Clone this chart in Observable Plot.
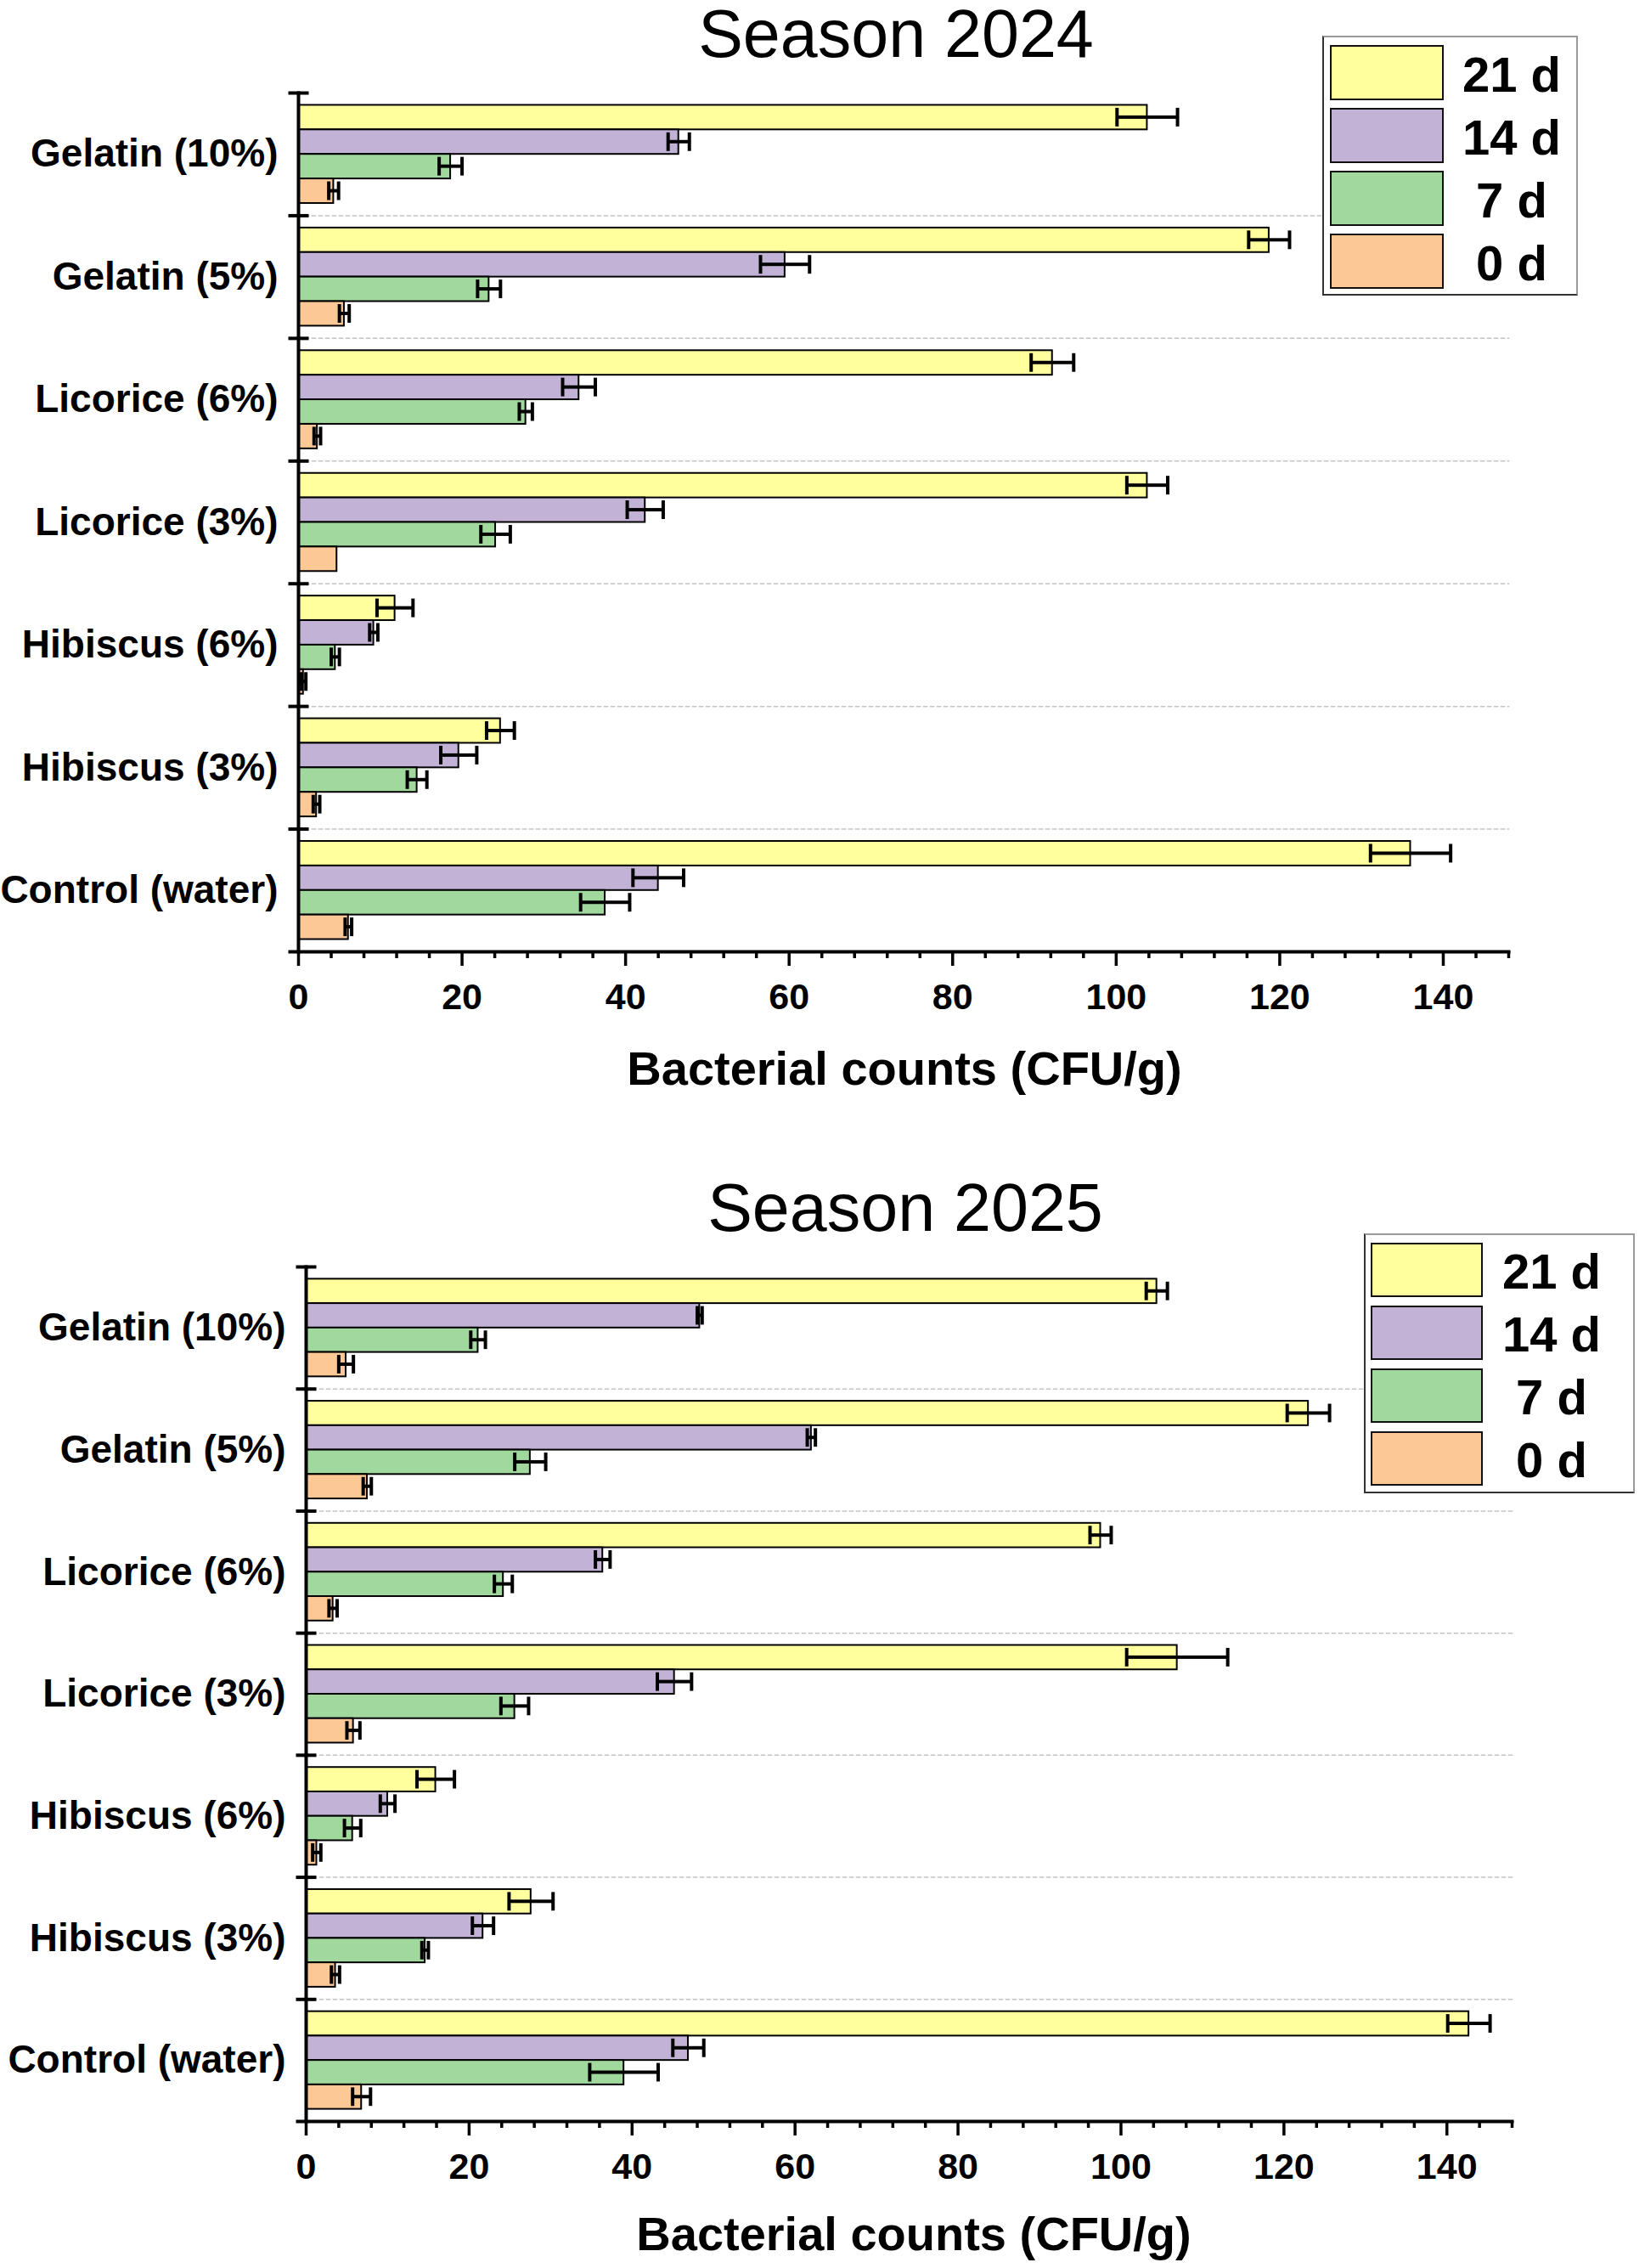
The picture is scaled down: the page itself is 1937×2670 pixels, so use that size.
<!DOCTYPE html>
<html>
<head>
<meta charset="utf-8">
<script src="https://cdn.jsdelivr.net/npm/d3@7"></script>
<script src="https://cdn.jsdelivr.net/npm/@observablehq/plot@0.6"></script>
<style>
html, body { margin: 0; padding: 0; background: #fff; }
body { width: 1937px; height: 2670px; position: relative; overflow: hidden; font-family: "Liberation Sans", Arial, sans-serif; color: #000; }
.abs { position: absolute; }
.title { font-size: 79px; line-height: 1; text-align: center; width: 1000px; white-space: nowrap; }
.xlabel { font-size: 56px; font-weight: bold; line-height: 1; text-align: center; width: 1000px; white-space: nowrap; }
.legend { position: absolute; background: #fff; box-sizing: border-box; border: 2px solid #333; border-top-color: #999; border-right-color: #999; }
.sw { position: absolute; border: 2px solid #111; box-sizing: border-box; }
.lt { position: absolute; font-size: 58px; font-weight: bold; line-height: 1; text-align: center; width: 160px; white-space: nowrap; }
</style>
</head>
<body>
<script>
// ---------- data ----------
const categories = ["Gelatin (10%)", "Gelatin (5%)", "Licorice (6%)", "Licorice (3%)", "Hibiscus (6%)", "Hibiscus (3%)", "Control (water)"];
const days = ["21 d", "14 d", "7 d", "0 d"];
const dayColors = ["#FFFF9E", "#C2B2D6", "#A0D89E", "#FCC896"];
const xDomain = [0, 148];
const xMajorTicks = [0, 20, 40, 60, 80, 100, 120, 140];
const xMinorTicks = [4, 8, 12, 16, 24, 28, 32, 36, 44, 48, 52, 56, 64, 68, 72, 76, 84, 88, 92, 96, 104, 108, 112, 116, 124, 128, 132, 136, 144, 148];
const xLabel = "Bacterial counts (CFU/g)";

// Season 2024 (values in category order)
const s2024_21d = [103.8, 118.7, 92.2, 103.8, 11.8, 24.7, 136.0];
const s2024_14d = [46.5, 59.5, 34.3, 42.4, 9.2, 19.6, 44.0];
const s2024_7d  = [18.6, 23.3, 27.8, 24.1, 4.5, 14.5, 37.5];
const s2024_0d  = [4.3, 5.6, 2.3, 4.7, 0.6, 2.2, 6.1];
const s2024_21d_sd = [3.7, 2.5, 2.6, 2.5, 2.2, 1.7, 4.9];
const s2024_14d_sd = [1.3, 3.0, 2.0, 2.2, 0.5, 2.2, 3.1];
const s2024_7d_sd  = [1.4, 1.4, 0.8, 1.8, 0.5, 1.2, 3.0];
const s2024_0d_sd  = [0.6, 0.6, 0.4, 0, 0.3, 0.4, 0.4];

// Season 2025
const s2025_21d = [104.4, 123.0, 97.5, 106.9, 15.9, 27.6, 142.7];
const s2025_14d = [48.3, 62.0, 36.4, 45.2, 10.0, 21.7, 46.9];
const s2025_7d  = [21.1, 27.5, 24.2, 25.6, 5.7, 14.6, 39.0];
const s2025_0d  = [4.9, 7.5, 3.3, 5.8, 1.3, 3.6, 6.8];
const s2025_21d_sd = [1.3, 2.6, 1.3, 6.2, 2.3, 2.7, 2.6];
const s2025_14d_sd = [0.3, 0.5, 0.9, 2.1, 0.9, 1.3, 1.9];
const s2025_7d_sd  = [0.9, 1.9, 1.1, 1.7, 1.0, 0.4, 4.2];
const s2025_0d_sd  = [0.9, 0.5, 0.5, 0.8, 0.5, 0.5, 1.1];

function buildRows(means, sds) {
  const out = [];
  days.forEach((d, k) => categories.forEach((c, i) => out.push({cat: c, day: d, value: means[k][i], sd: sds[k][i]})));
  return out;
}
const rows2024 = buildRows([s2024_21d, s2024_14d, s2024_7d, s2024_0d], [s2024_21d_sd, s2024_14d_sd, s2024_7d_sd, s2024_0d_sd]);
const rows2025 = buildRows([s2025_21d, s2025_14d, s2025_7d, s2025_0d], [s2025_21d_sd, s2025_14d_sd, s2025_7d_sd, s2025_0d_sd]);

// ---------- chart ----------
function chart(data, L) {
  const plotW = L.width - L.marginLeft - L.marginRight;
  const facetH = (L.height - L.marginTop - L.marginBottom) / categories.length;
  const step = facetH / (days.length + 1);
  const lineW = 4;
  const err = data.filter(d => d.sd > 0);
  const lo = d => d.value - d.sd, hi = d => d.value + d.sd;
  return Plot.plot({
    width: L.width, height: L.height,
    marginLeft: L.marginLeft, marginRight: L.marginRight, marginTop: L.marginTop, marginBottom: L.marginBottom,
    style: {fontFamily: '"Liberation Sans", Arial, sans-serif', background: "transparent", color: "black", overflow: "visible"},
    x: {domain: xDomain, label: null},
    y: {domain: days, paddingInner: 0, paddingOuter: 0.5, round: false, axis: null, label: null},
    fy: {domain: categories, paddingInner: 0, paddingOuter: 0, round: false, label: null},
    color: {domain: days, range: dayColors},
    marks: [
      Plot.frame({anchor: "bottom", stroke: "#c4c4c4", strokeWidth: 1.5, strokeDasharray: "4,4"}),
      Plot.barX(data, {x: "value", y: "day", fy: "cat", fill: "day", stroke: "black", strokeWidth: 2}),
      Plot.barX(err, {x1: lo, x2: hi, y: "day", fy: "cat", fill: "black", insetTop: (step - lineW) / 2, insetBottom: (step - lineW) / 2}),
      Plot.tickX(err, {x: lo, y: "day", fy: "cat", stroke: "black", strokeWidth: 4, insetTop: step * 0.12, insetBottom: step * 0.12}),
      Plot.tickX(err, {x: hi, y: "day", fy: "cat", stroke: "black", strokeWidth: 4, insetTop: step * 0.12, insetBottom: step * 0.12}),
      Plot.frame({anchor: "left", stroke: "black", strokeWidth: 4}),
      Plot.frame({anchor: "top", stroke: "black", strokeWidth: 4, insetLeft: -10, insetRight: plotW - 10}),
      Plot.frame({fy: categories[categories.length - 1], anchor: "bottom", stroke: "black", strokeWidth: 4, insetLeft: -10}),
      Plot.axisFy({anchor: "left", label: null, tickSize: 0, tickPadding: 24, fontSize: 46, fontWeight: "bold", fill: "black"}),
      Plot.axisX({ticks: xMinorTicks, tickSize: 8, tickFormat: () => "", label: null, strokeWidth: 3.5}),
      Plot.axisX({ticks: xMajorTicks, tickSize: 17, tickPadding: 20, label: null, fontSize: 43, fontWeight: "bold", fill: "black", strokeWidth: 3.5})
    ]
  });
}

function place(el, left, top) {
  el.style.position = "absolute";
  el.style.left = left + "px";
  el.style.top = top + "px";
  document.body.appendChild(el);
  return el;
}

function textDiv(cls, text, cx, baseline, fontSize) {
  const d = document.createElement("div");
  d.className = "abs " + cls;
  d.textContent = text;
  d.style.left = (cx - 500) + "px";
  d.style.top = (baseline - 0.8465 * fontSize) + "px";
  document.body.appendChild(d);
}

function legend(box) {
  const lg = document.createElement("div");
  lg.className = "legend";
  lg.style.left = box.left + "px"; lg.style.top = box.top + "px";
  lg.style.width = box.width + "px"; lg.style.height = box.height + "px";
  days.forEach((d, k) => {
    const sw = document.createElement("div");
    sw.className = "sw";
    sw.style.left = box.swLeft + "px";
    sw.style.top = (box.swTop + k * box.swStep) + "px";
    sw.style.width = box.swW + "px";
    sw.style.height = box.swH + "px";
    sw.style.background = dayColors[k];
    lg.appendChild(sw);
    const t = document.createElement("div");
    t.className = "lt";
    t.textContent = d;
    t.style.left = (box.labelCx - 80) + "px";
    t.style.top = (box.swTop + k * box.swStep + box.swH / 2 - 29 + 2) + "px";
    lg.appendChild(t);
  });
  document.body.appendChild(lg);
}

// Season 2024
const c1 = chart(rows2024, {width: 1937, height: 1210, marginLeft: 351, marginRight: 161, marginTop: 109, marginBottom: 90});
place(c1, 0, 0);
textDiv("title", "Season 2024", 1055, 67, 79);
textDiv("xlabel", xLabel, 1065, 1277, 56);
legend({left: 1557, top: 42, width: 301, height: 306, swLeft: 7, swTop: 9, swStep: 74, swW: 134, swH: 65, labelCx: 221});

// Season 2025
const c2 = chart(rows2025, {width: 1937, height: 1210, marginLeft: 360, marginRight: 157, marginTop: 111, marginBottom: 93});
place(c2, 0, 1380);
textDiv("title", "Season 2025", 1066, 1449, 79);
textDiv("xlabel", xLabel, 1076, 2649, 56);
legend({left: 1606, top: 1452, width: 319, height: 306, swLeft: 6, swTop: 9, swStep: 74, swW: 132, swH: 64, labelCx: 219});
</script>
</body>
</html>
